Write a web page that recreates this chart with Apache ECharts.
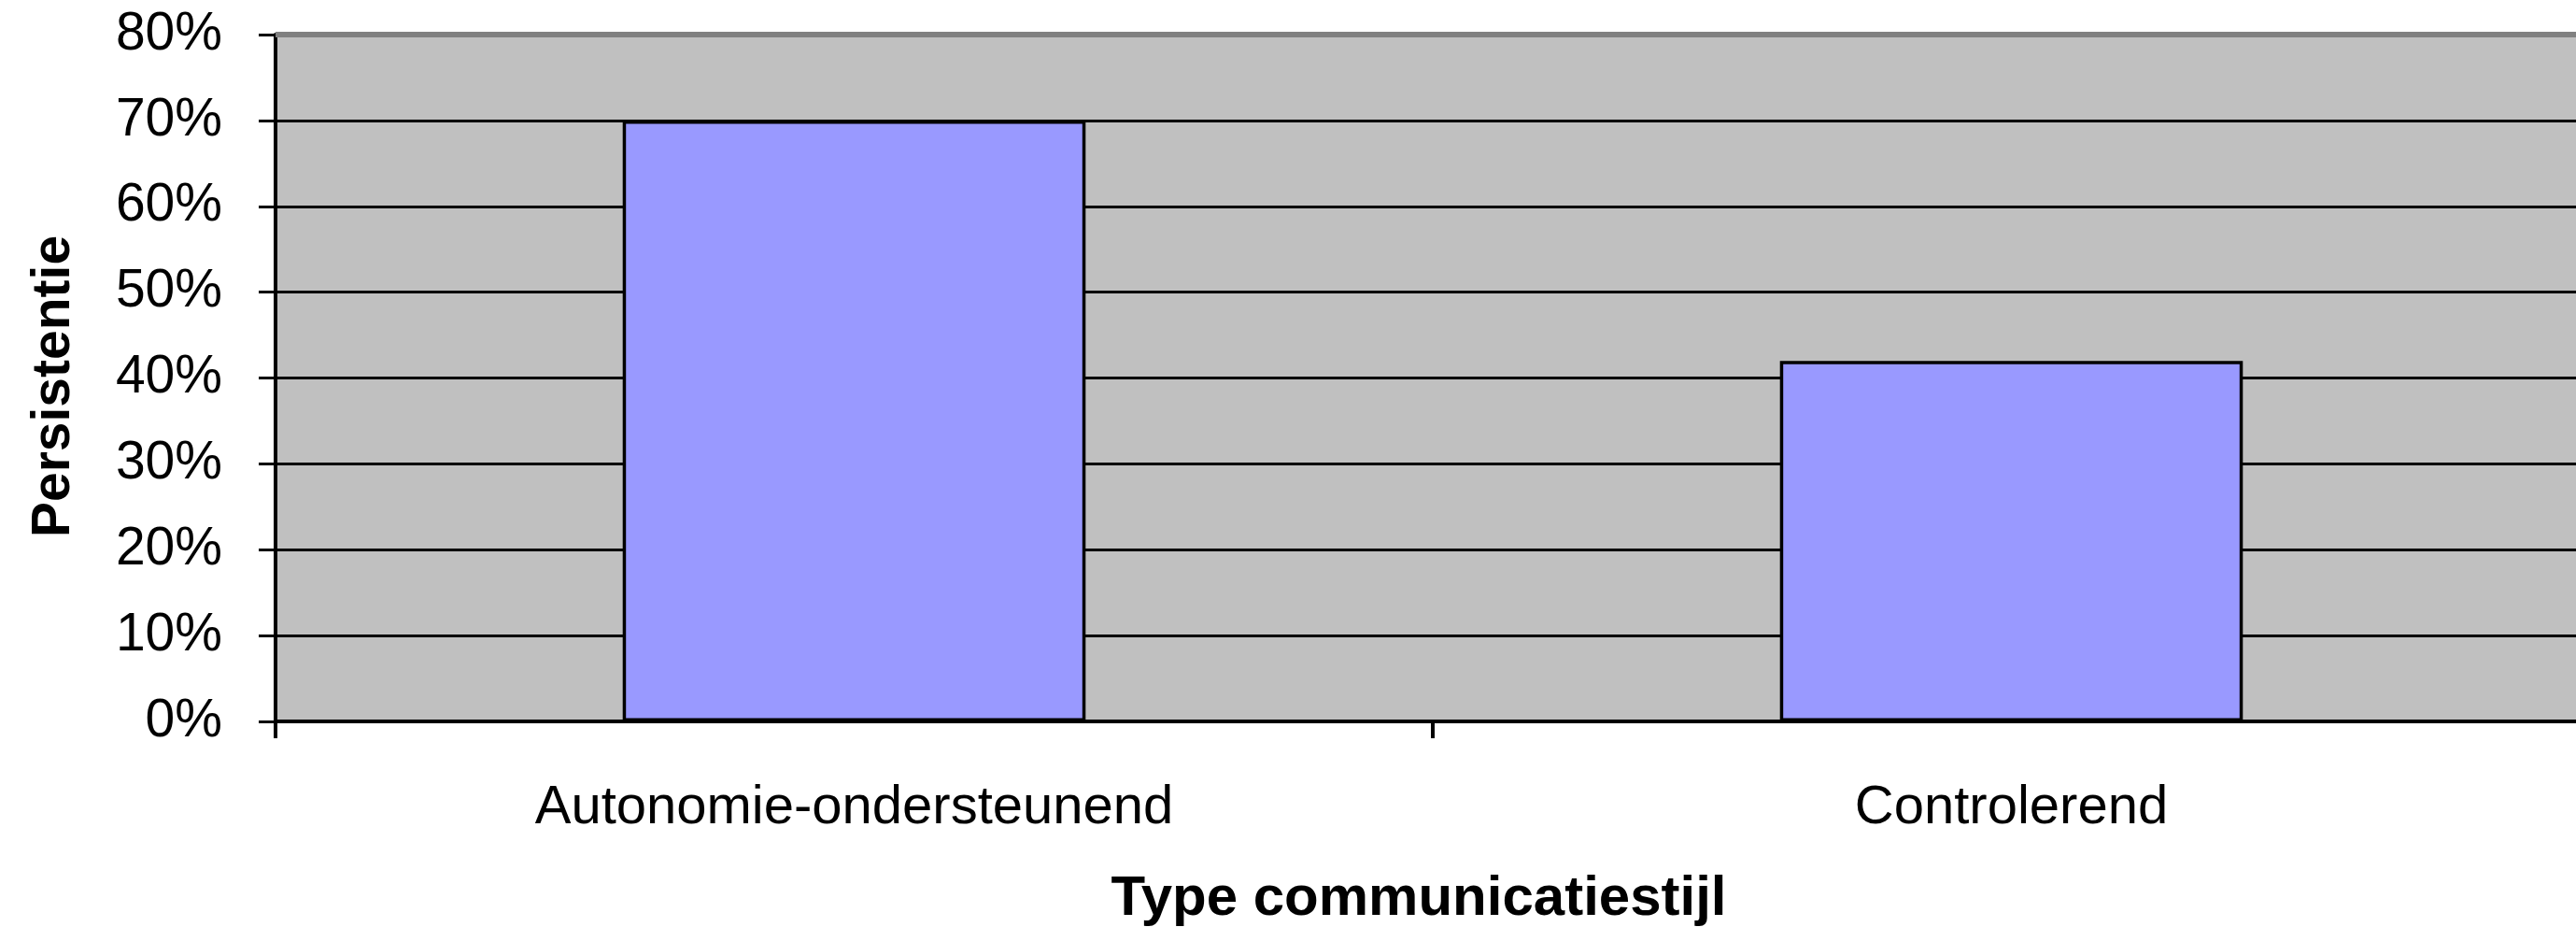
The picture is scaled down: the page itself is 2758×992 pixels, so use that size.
<!DOCTYPE html>
<html>
<head>
<meta charset="utf-8">
<script src="https://cdn.jsdelivr.net/npm/echarts@6/dist/echarts.min.js"></script>
<style>
html,body{margin:0;padding:0;background:#fff;}
#chart{width:2758px;height:992px;}
</style>
</head>
<body>
<div id="chart"></div>
<script>
const categories = ['Autonomie-ondersteunend', 'Controlerend'];
const persistentie = [70, 42];
const yTicks = [0, 10, 20, 30, 40, 50, 60, 70, 80];
const xTitle = 'Type communicatiestijl';
const yTitle = 'Persistentie';

const font = '"Liberation Sans", Arial, sans-serif';
const chart = echarts.init(document.getElementById('chart'), null, {renderer: 'canvas'});
const splitColors = yTicks.map((t, i) => i === yTicks.length - 1 ? '#808080' : '#000000');

chart.setOption({
  animation: false,
  backgroundColor: '#ffffff',
  grid: {
    left: 295, width: 2478, top: 37, bottom: 220,
    outerBoundsMode: 'none',
    containLabel: false,
    show: true, backgroundColor: '#C0C0C0', borderWidth: 0
  },
  xAxis: {
    type: 'category',
    data: categories,
    boundaryGap: true,
    axisLine: {show: true, lineStyle: {color: '#000', width: 4}},
    axisTick: {show: true, length: 18, lineStyle: {color: '#000', width: 4}},
    axisLabel: {color: '#000', fontFamily: font, fontSize: 58, margin: 64},
    splitLine: {show: false},
    name: xTitle,
    nameLocation: 'middle',
    nameGap: 160,
    nameTextStyle: {color: '#000', fontFamily: font, fontSize: 60, fontWeight: 'bold', padding: [0, 30, 0, 0]}
  },
  yAxis: {
    type: 'value',
    min: yTicks[0],
    max: yTicks[yTicks.length - 1],
    interval: yTicks[1] - yTicks[0],
    axisLine: {show: true, lineStyle: {color: '#000', width: 4}},
    axisTick: {show: true, length: 18, lineStyle: {color: '#000', width: 3}},
    axisLabel: {color: '#000', fontFamily: font, fontSize: 57, margin: 57, formatter: v => v + '%'},
    splitLine: {show: true, lineStyle: {color: splitColors, width: 3}},
    name: yTitle,
    nameLocation: 'middle',
    nameGap: 208,
    nameRotate: 90,
    nameTextStyle: {color: '#000', fontFamily: font, fontSize: 57, fontWeight: 'bold', padding: [0, 18, 0, 0]}
  },
  series: [{
    type: 'bar',
    data: persistentie,
    barWidth: '40%',
    itemStyle: {color: '#9999FF', borderColor: '#000', borderWidth: 3.5},
    markLine: {
      silent: true, symbol: 'none', label: {show: false},
      lineStyle: {color: '#808080', width: 6, type: 'solid'},
      data: [{yAxis: yTicks[yTicks.length - 1]}]
    }
  }]
});
</script>
</body>
</html>
